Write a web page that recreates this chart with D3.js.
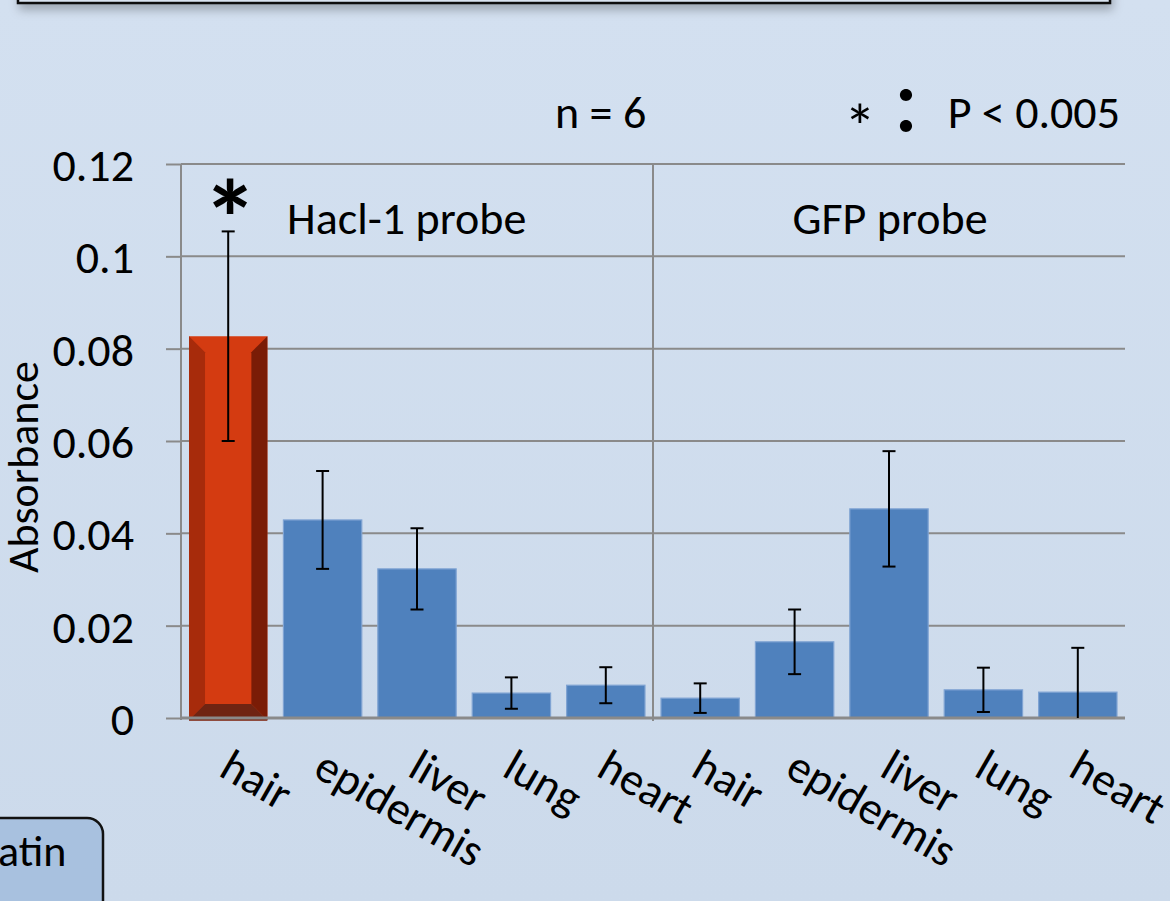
<!DOCTYPE html>
<html>
<head>
<meta charset="utf-8">
<script src="https://cdn.jsdelivr.net/npm/d3@7"></script>
<style>
  html, body { margin: 0; padding: 0; overflow: hidden; }
  body { width: 1170px; height: 901px; }
  svg text { font-family: Carlito, Calibri, Lato, sans-serif; fill: #000; }
</style>
</head>
<body>
<div id="chart"></div>
<script>
// chart values
const tissues = ["hair", "epidermis", "liver", "lung", "heart"];
const probes = ["Hacl-1 probe", "GFP probe"];
const hacl1Means = [0.0827, 0.0429, 0.0323, 0.0054, 0.0071];
const hacl1Errors = [0.0227, 0.0106, 0.0088, 0.0034, 0.0039];
const gfpMeans = [0.0043, 0.0165, 0.0453, 0.0061, 0.0056];
const gfpErrors = [0.0032, 0.0070, 0.0125, 0.0048, 0.0096];
const yTicks = [0, 0.02, 0.04, 0.06, 0.08, 0.1, 0.12];
const yTickLabels = ["0", "0.02", "0.04", "0.06", "0.08", "0.1", "0.12"];
const significant = [true, false, false, false, false, false, false, false, false, false];

const rows = [];
probes.forEach((p, pi) => {
    const means = pi === 0 ? hacl1Means : gfpMeans;
    const errs = pi === 0 ? hacl1Errors : gfpErrors;
    tissues.forEach((t, ti) => {
        rows.push({ id: pi * 5 + ti, probe: p, tissue: t, mean: means[ti], err: errs[ti] });
    });
});

const W = 1170, H = 901;
const plot = { left: 181, right: 1125, top: 164, bottom: 718 };

const svg = d3.select("#chart").append("svg")
    .attr("width", W)
    .attr("height", H);

const defs = svg.append("defs");
const bg = defs.append("linearGradient").attr("id", "bg").attr("x1", 0).attr("y1", 0).attr("x2", 0).attr("y2", 1);
bg.append("stop").attr("offset", "0%").attr("stop-color", "#d3e0f0");
bg.append("stop").attr("offset", "100%").attr("stop-color", "#ccdaeb");
const shadow = defs.append("filter").attr("id", "shadow").attr("x", "-5%").attr("y", "-50%").attr("width", "110%").attr("height", "300%");
shadow.append("feDropShadow").attr("dx", 2).attr("dy", 6).attr("stdDeviation", 5).attr("flood-color", "#000").attr("flood-opacity", 0.25);

svg.append("rect").attr("width", W).attr("height", H).attr("fill", "url(#bg)");

// banner box at the top edge (mostly off-canvas)
svg.append("rect")
    .attr("x", 18).attr("y", -40).attr("width", 1092).attr("height", 43)
    .attr("fill", "#d9e3f0").attr("stroke", "#111").attr("stroke-width", 2.5)
    .attr("filter", "url(#shadow)");

// rounded box bottom-left (cut off)
svg.append("rect")
    .attr("x", -40).attr("y", 818).attr("width", 143).attr("height", 140).attr("rx", 16)
    .attr("fill", "#a8c1df").attr("stroke", "#111").attr("stroke-width", 2.5);
svg.append("text").attr("x", -2).attr("y", 866).style("font-size", "44px").text("atin");

const x = d3.scaleBand()
    .domain(rows.map(d => d.id))
    .range([plot.left, plot.right])
    .paddingInner(0.17)
    .paddingOuter(0.085);

const y = d3.scaleLinear()
    .domain([0, 0.12])
    .range([plot.bottom, plot.top]);

// gridlines
svg.append("g")
    .selectAll("line")
    .data(yTicks.filter(v => v > 0))
    .join("line")
    .attr("x1", plot.left).attr("x2", plot.right)
    .attr("y1", d => y(d)).attr("y2", d => y(d))
    .attr("stroke", "#8a8a8a").attr("stroke-width", 2);

// y axis
const yAxis = svg.append("g")
    .attr("transform", `translate(${plot.left},0)`)
    .call(d3.axisLeft(y).tickValues(yTicks).tickFormat((d, i) => yTickLabels[i]).tickSize(15).tickPadding(32));
yAxis.select(".domain").attr("stroke", "#8a8a8a").attr("stroke-width", 2).attr("d", `M0,${plot.top}V${plot.bottom + 2}`);
yAxis.selectAll(".tick line").attr("stroke", "#8a8a8a").attr("stroke-width", 2);
yAxis.selectAll(".tick text")
    .style("font-size", "46px")
    .style("font-family", "Carlito, Calibri, Lato, sans-serif")
    .attr("dy", "0.36em")
    .attr("fill", "#000");

// divider between probes
const divX = (x(4) + x.bandwidth() + x(5)) / 2;
svg.append("line")
    .attr("x1", divX).attr("x2", divX)
    .attr("y1", plot.top).attr("y2", plot.bottom + 3)
    .attr("stroke", "#8a8a8a").attr("stroke-width", 2);

// bars
const blueRows = rows.filter((d, i) => !significant[i]);
svg.append("g")
    .selectAll("rect")
    .data(blueRows)
    .join("rect")
    .attr("x", d => x(d.id))
    .attr("y", d => y(d.mean))
    .attr("width", x.bandwidth())
    .attr("height", d => y(0) - y(d.mean))
    .attr("fill", "#4f81bd")
    .attr("stroke", "#7fa3d3")
    .attr("stroke-width", 1.2);

// bevelled red bar for the significant one
const bv = 16;
rows.filter((d, i) => significant[i]).forEach(d => {
    const x0 = x(d.id), x1 = x0 + x.bandwidth();
    const y0 = y(d.mean), y1 = y(0) + 2;
    const g = svg.append("g");
    const poly = (pts, c) => g.append("polygon").attr("points", pts.map(p => p.join(",")).join(" ")).attr("fill", c);
    poly([[x0, y0], [x1, y0], [x1, y1], [x0, y1]], "#d43b11");
    poly([[x0, y0], [x0 + bv, y0 + bv], [x0 + bv, y1 - bv], [x0, y1]], "#a72b0b");
    poly([[x1, y0], [x1 - bv, y0 + bv], [x1 - bv, y1 - bv], [x1, y1]], "#7a1c06");
    poly([[x0, y1], [x0 + bv, y1 - bv], [x1 - bv, y1 - bv], [x1, y1]], "#6f2412");
    g.append("line").attr("x1", x0).attr("x2", x1).attr("y1", y1).attr("y2", y1).attr("stroke", "#7a1c06").attr("stroke-width", 1.5);
});

// x axis baseline
svg.append("line")
    .attr("x1", plot.left).attr("x2", plot.right)
    .attr("y1", y(0)).attr("y2", y(0))
    .attr("stroke", "#8a8a8a").attr("stroke-width", 3);

// error bars
const capW = 13;
const eb = svg.append("g").attr("stroke", "#000").attr("stroke-width", 2);
rows.forEach(d => {
    const cx = x(d.id) + x.bandwidth() / 2;
    const hi = d.mean + d.err;
    const lo = Math.max(0, d.mean - d.err);
    eb.append("line").attr("x1", cx).attr("x2", cx).attr("y1", y(hi)).attr("y2", y(lo));
    eb.append("line").attr("x1", cx - capW / 2).attr("x2", cx + capW / 2).attr("y1", y(hi)).attr("y2", y(hi));
    if (d.mean - d.err > 0) {
        eb.append("line").attr("x1", cx - capW / 2).attr("x2", cx + capW / 2).attr("y1", y(lo)).attr("y2", y(lo));
    }
});

// significance asterisk
rows.filter((d, i) => significant[i]).forEach(d => {
    svg.append("text")
        .attr("x", x(d.id) + x.bandwidth() / 2 + 2)
        .attr("y", y(d.mean + d.err) + 26)
        .attr("text-anchor", "middle")
        .style("font-size", "110px")
        .style("font-weight", "bold")
        .text("*");
});

// category labels, rotated
svg.append("g")
    .selectAll("text")
    .data(rows)
    .join("text")
    .attr("transform", d => `translate(${x(d.id) + x.bandwidth() / 2 - 11},${y(0) + 57}) rotate(30)`)
    .style("font-size", "46px")
    .text(d => d.tissue);

// probe titles
svg.append("text").attr("x", 287).attr("y", 234).style("font-size", "46px").text(probes[0]);
svg.append("text").attr("x", (divX + plot.right) / 2 + 1).attr("y", 234).attr("text-anchor", "middle").style("font-size", "46px").text(probes[1]);

// annotations
svg.append("text").attr("x", 555).attr("y", 128).style("font-size", "46px").text("n = 6");
svg.append("text").attr("x", 860).attr("y", 149).attr("text-anchor", "middle").style("font-size", "64px").text("*");
svg.append("text").attr("x", 906).attr("y", 134).attr("text-anchor", "middle")
    .style("font-family", "'Noto Sans CJK JP', sans-serif").style("font-size", "64px").style("font-weight", "bold").text("：");
svg.append("text").attr("x", 1120).attr("y", 128).attr("text-anchor", "end").style("font-size", "46px").text("P < 0.005");

// axis title
svg.append("text")
    .attr("transform", `translate(38,${(plot.top + plot.bottom) / 2 + 26}) rotate(-90)`)
    .attr("text-anchor", "middle")
    .style("font-size", "44px")
    .text("Absorbance");
</script>
</body>
</html>
